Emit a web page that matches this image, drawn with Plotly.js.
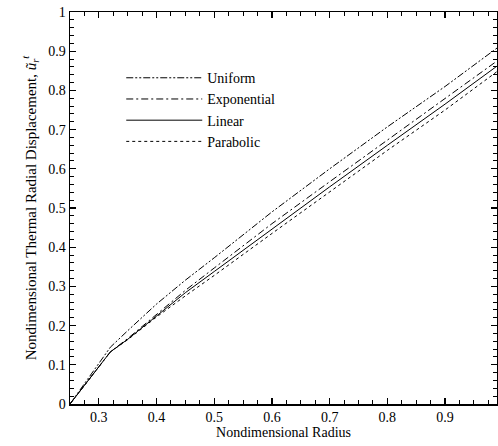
<!DOCTYPE html>
<html>
<head>
<meta charset="utf-8">
<script src="https://cdn.plot.ly/plotly-3.0.1.min.js"></script>
<style>html,body{margin:0;padding:0;background:#fff;}#chart{width:498px;height:446px;}</style>
</head>
<body>
<div id="chart"></div>
<script>
// Data
const seriesNames = ["Uniform", "Exponential", "Linear", "Parabolic"];
const xUniform = [0.25, 0.275, 0.3, 0.32, 0.35, 0.4, 0.45, 0.5, 0.6, 0.7, 0.8, 0.9, 0.99];
const yUniform = [0, 0.052, 0.104, 0.145, 0.187, 0.255, 0.316, 0.373, 0.49, 0.6, 0.707, 0.81, 0.908];
const xExponential = [0.25, 0.275, 0.3, 0.32, 0.35, 0.375, 0.4, 0.45, 0.5, 0.6, 0.7, 0.8, 0.9, 0.99];
const yExponential = [0, 0.047, 0.095, 0.133, 0.167, 0.198, 0.23, 0.29, 0.347, 0.46, 0.567, 0.673, 0.778, 0.875];
const xLinear = [0.25, 0.275, 0.3, 0.32, 0.35, 0.375, 0.4, 0.45, 0.5, 0.6, 0.7, 0.8, 0.9, 0.99];
const yLinear = [0, 0.047, 0.095, 0.133, 0.165, 0.195, 0.226, 0.284, 0.338, 0.447, 0.554, 0.66, 0.765, 0.862];
const xParabolic = [0.25, 0.275, 0.3, 0.32, 0.35, 0.375, 0.4, 0.45, 0.5, 0.6, 0.7, 0.8, 0.9, 0.99];
const yParabolic = [0, 0.047, 0.095, 0.133, 0.164, 0.193, 0.222, 0.276, 0.328, 0.435, 0.541, 0.647, 0.75, 0.848];

const xs = [xUniform, xExponential, xLinear, xParabolic];
const ys = [yUniform, yExponential, yLinear, yParabolic];
const dashes = ["7px,2px,2px,2px,2px,2px", "7px,3px,2px,3px", "solid", "3px,3px"];

const FONT = "'Liberation Serif', 'DejaVu Serif', serif";

const traces = seriesNames.map((n, i) => ({
  x: xs[i], y: ys[i], name: n, type: "scatter", mode: "lines",
  line: {color: "#000", width: 1, dash: dashes[i]}
}));

const axisCommon = {
  showgrid: false, zeroline: false, showline: true, linecolor: "#000", linewidth: 1.5,
  mirror: "allticks", ticks: "inside", ticklen: 6, tickwidth: 1.2, tickcolor: "#000",
  tickfont: {family: FONT, size: 14, color: "#000"}
};

const layout = {
  width: 498, height: 446,
  margin: {l: 70, r: 1, t: 12, b: 42},
  paper_bgcolor: "#fff", plot_bgcolor: "#fff",
  font: {family: FONT, size: 14, color: "#000"},
  showlegend: true,
  legend: {x: 0.12, y: 0.872, xanchor: "left", yanchor: "top", bgcolor: "rgba(0,0,0,0)",
           font: {family: FONT, size: 14, color: "#000"},
           tracegroupgap: 0, itemwidth: 76},
  xaxis: Object.assign({}, axisCommon, {
    range: [0.25, 0.99], tick0: 0, dtick: 0.1,
    minor: {dtick: 0.025, tick0: 0, ticks: "inside", ticklen: 4, tickcolor: "#000", tickwidth: 1},
    title: {text: "Nondimensional Radius", standoff: 2,
            font: {family: FONT, size: 14, color: "#000"}}
  }),
  yaxis: Object.assign({}, axisCommon, {
    range: [0, 1], tick0: 0, dtick: 0.1,
    minor: {dtick: 0.02, tick0: 0, ticks: "inside", ticklen: 4, tickcolor: "#000", tickwidth: 1},
    title: {text: "Nondimensional Thermal Radial Displacement, <i>ũ<sub>r</sub><sup>t</sup></i>", standoff: 8,
            font: {family: FONT, size: 15, color: "#000"}}
  })
};

Plotly.newPlot("chart", traces, layout, {displayModeBar: false, staticPlot: true});
</script>
</body>
</html>
